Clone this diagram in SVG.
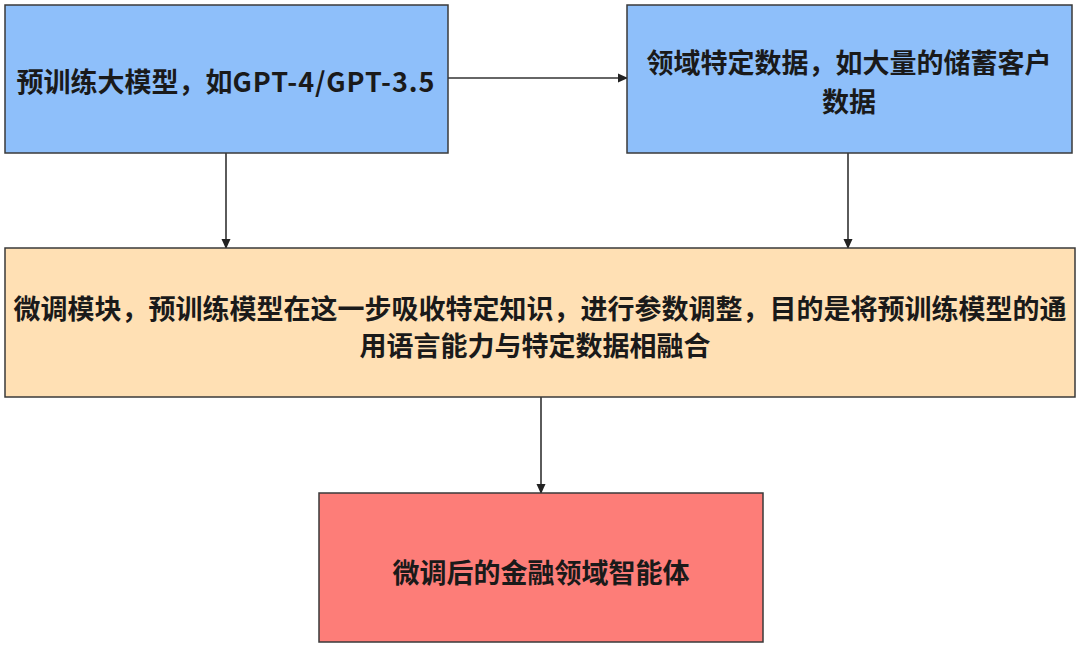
<svg xmlns="http://www.w3.org/2000/svg" width="1080" height="647" viewBox="0 0 1080 647">
<style>
.box{stroke:#3a3a3a;stroke-width:1.5}
.t{font-family:"Noto Sans CJK SC","Noto Sans",sans-serif;font-weight:bold;font-size:27px;fill:#1a1a1a;text-anchor:middle;dominant-baseline:central}
.c{stroke:#333;stroke-width:1.6;fill:none;marker-end:url(#ah)}
</style>
<defs>
<marker id="ah" markerWidth="10" markerHeight="10" refX="9" refY="5" orient="auto" markerUnits="userSpaceOnUse">
<path d="M0,0.5 L10,5 L0,9.5 Z" fill="#222"/>
</marker>
</defs>
<rect width="1080" height="647" fill="#ffffff"/>
<g id="connectors">
<line class="c" x1="448" y1="78" x2="627" y2="78"/>
<line class="c" x1="226" y1="153" x2="226" y2="248"/>
<line class="c" x1="848" y1="153" x2="848" y2="248"/>
<line class="c" x1="541" y1="397" x2="541" y2="493"/>
</g>
<g id="pretrained">
<rect class="box" x="5" y="5" width="443" height="148" fill="#8ebffa"/>
<text class="t" x="226" y="80">预训练大模型，如<tspan letter-spacing="1">GPT-4/GPT-3.5</tspan></text>
</g>
<g id="domaindata">
<rect class="box" x="627" y="5" width="445" height="148" fill="#8ebffa"/>
<text class="t" x="849" y="61">领域特定数据，如大量的储蓄客户</text>
<text class="t" x="849" y="100">数据</text>
</g>
<g id="finetune">
<rect class="box" x="5" y="248" width="1070" height="149" fill="#ffe0b4"/>
<text class="t" x="540" y="307">微调模块，预训练模型在这一步吸收特定知识，进行参数调整，目的是将预训练模型的通</text>
<text class="t" x="535" y="344">用语言能力与特定数据相融合</text>
</g>
<g id="agent">
<rect class="box" x="319" y="493" width="444" height="149" fill="#fd7d78"/>
<text class="t" x="541" y="571">微调后的金融领域智能体</text>
</g>
</svg>
